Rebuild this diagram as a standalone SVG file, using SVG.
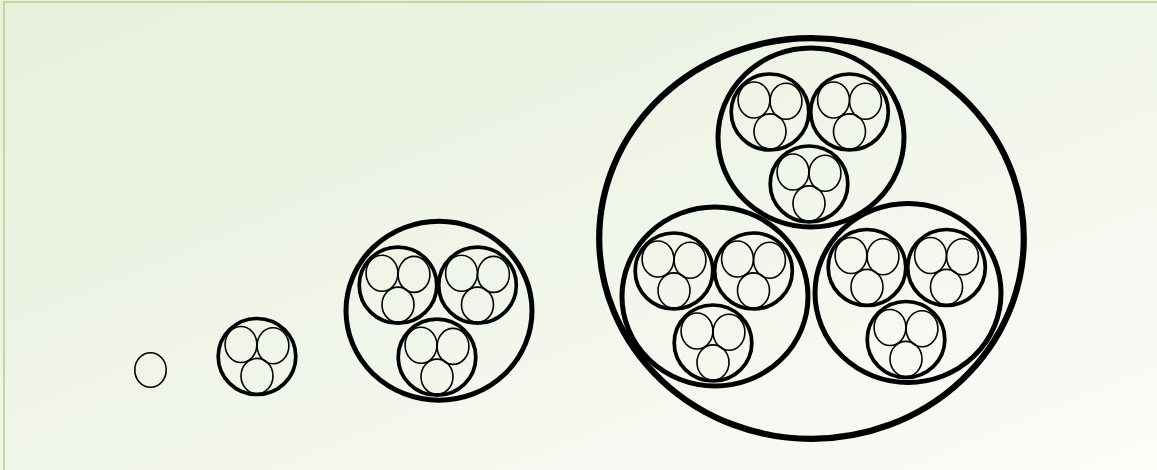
<svg xmlns="http://www.w3.org/2000/svg" xmlns:xlink="http://www.w3.org/1999/xlink" width="1157" height="470" viewBox="0 0 1157 470">
<style>
.c0{fill:none;stroke:#000;stroke-width:1.6}
.c1{fill:none;stroke:#000;stroke-width:3.7}
.c2{fill:none;stroke:#000;stroke-width:5}
.c3{fill:none;stroke:#000;stroke-width:6.2}
</style>
<defs>
<linearGradient id="bg" x1="0" y1="0" x2="1" y2="1">
<stop offset="0" stop-color="#e8f0da"/>
<stop offset="0.5" stop-color="#f0f5e9"/>
<stop offset="1" stop-color="#fbfdf9"/>
</linearGradient>
<g id="u1">
<ellipse class="c1" cx="0" cy="0" rx="38.8" ry="38"/>
<ellipse class="c0" cx="-16" cy="-12" rx="15.9" ry="18"/>
<ellipse class="c0" cx="16" cy="-10.8" rx="15.9" ry="18"/>
<ellipse class="c0" cx="0" cy="19.5" rx="16" ry="17.6"/>
</g>
<g id="u2">
<ellipse class="c2" cx="0" cy="0" rx="93" ry="89.5"/>
<use xlink:href="#u1" transform="translate(-41,-25.5)"/>
<use xlink:href="#u1" transform="translate(38.5,-25.5)"/>
<use xlink:href="#u1" transform="translate(-2,46.5)"/>
</g>
</defs>
<rect x="0" y="0" width="1157" height="470" fill="url(#bg)"/>
<path d="M4,470 V2 H1157" fill="none" stroke="#c3d89e" stroke-width="2"/>
<g id="fig0">
<ellipse class="c0" cx="150.5" cy="370" rx="15.7" ry="17.3"/>
</g>
<g id="fig1">
<use xlink:href="#u1" transform="translate(257,356.5)"/>
</g>
<g id="fig2">
<use xlink:href="#u2" transform="translate(439,310.7)"/>
</g>
<g id="fig3">
<ellipse class="c3" cx="811.5" cy="238.5" rx="212.3" ry="200.3"/>
<use xlink:href="#u2" transform="translate(811,137.5)"/>
<use xlink:href="#u2" transform="translate(715,296.5)"/>
<use xlink:href="#u2" transform="translate(908,293)"/>
</g>
</svg>
